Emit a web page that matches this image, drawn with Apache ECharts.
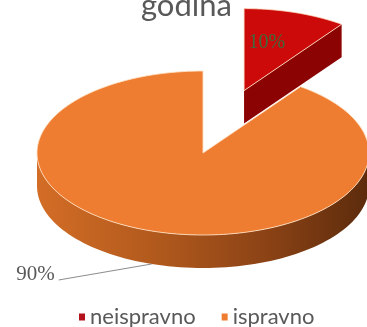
<!DOCTYPE html>
<html><head><meta charset="utf-8">
<script src="https://cdn.jsdelivr.net/npm/echarts@6/dist/echarts.min.js"></script>
<style>html,body{margin:0;padding:0;background:#fff}#c{width:367px;height:327px}</style>
</head><body><div id="c"></div>
<script>
// ---- data ----
const categories = ['neispravno', 'ispravno'];
const values = [10, 90];
const percentLabels = ['10%', '90%'];
const titleText = 'godina';

// ---- geometry / style (not data) ----
const geom = { cx: 203, cy: 153, rx: 166, ry: 82, depth: 33 };
const explode = [0.8, 0];
const labelMode = ['inside', 'outside'];
const legendColors = ['#b3121c', '#ee7d31'];
const topFill = ['#cc0a0a', '#ee7d31'];
const wallFill = ['#8c0303', '#a8521a'];
const sideStops = [
  [{offset:0,color:'#9a0505'},{offset:1,color:'#6e0000'}],
  [{offset:0,color:'#d36d26'},{offset:0.35,color:'#b25a1d'},{offset:0.7,color:'#8a4215'},{offset:1,color:'#5c2b0c'}]
];

const total = values.reduce((a, b) => a + b, 0);
const starts = [];
values.reduce((acc, v, i) => { starts[i] = acc; return acc + v; }, 0);

function pt(cx, cy, th, dz) {
  return [cx + geom.rx * Math.sin(th), cy - geom.ry * Math.cos(th) + (dz || 0)];
}

function renderSlice(params, api) {
  const idx = params.seriesIndex;
  const start = api.value(0), val = api.value(1);
  const a0 = start / total * 2 * Math.PI, a1 = (start + val) / total * 2 * Math.PI;
  const am = (a0 + a1) / 2;
  const e = explode[idx];
  const cx = geom.cx + e * geom.rx * Math.sin(am);
  const cy = geom.cy - e * geom.ry * Math.cos(am);
  const D = geom.depth;
  const children = [];
  const N = 90;
  // outer side (front half only)
  const lo = Math.max(a0, Math.PI / 2), hi = Math.min(a1, 3 * Math.PI / 2);
  if (hi > lo) {
    const pts = [];
    for (let i = 0; i <= N; i++) pts.push(pt(cx, cy, lo + (hi - lo) * i / N, 0));
    for (let i = N; i >= 0; i--) pts.push(pt(cx, cy, lo + (hi - lo) * i / N, D));
    children.push({ type: 'polygon', shape: { points: pts },
      style: { fill: { type: 'linear', x: 0, y: 0, x2: 1, y2: 0, colorStops: sideStops[idx] } } });
  }
  // radial walls
  if (Math.sin(a1) > 0.001) {
    const r = pt(cx, cy, a1, 0);
    children.push({ type: 'polygon', shape: { points: [[cx, cy], r, [r[0], r[1] + D], [cx, cy + D]] },
      style: { fill: wallFill[idx] } });
  }
  if (Math.sin(a0) < -0.001) {
    const r = pt(cx, cy, a0, 0);
    children.push({ type: 'polygon', shape: { points: [[cx, cy], r, [r[0], r[1] + D], [cx, cy + D]] },
      style: { fill: wallFill[idx] } });
  }
  // top face
  const tp = [[cx, cy]];
  for (let i = 0; i <= N * 2; i++) tp.push(pt(cx, cy, a0 + (a1 - a0) * i / (N * 2), 0));
  children.push({ type: 'polygon', shape: { points: tp },
    style: { fill: topFill[idx], stroke: 'rgba(255,225,195,0.85)', lineWidth: 1 } });
  // labels
  if (labelMode[idx] === 'inside') {
    const p = pt(cx, cy, am, 0);
    const f = 0.62;
    const x = cx + (p[0] - cx) * f - 9, y = cy + (p[1] - cy) * f;
    children.push({ type: 'text', style: { text: percentLabels[idx], x: x, y: y,
      align: 'center', verticalAlign: 'middle', fill: '#3d6b3d',
      font: '20px "Liberation Serif", "DejaVu Serif", serif' } });
  } else {
    const p = pt(cx, cy, am, D);
    const end = [p[0] - 93, p[1] + 16];
    children.push({ type: 'polyline', shape: { points: [p, end] },
      style: { stroke: '#8c8c8c', lineWidth: 1, fill: null } });
    children.push({ type: 'text', style: { text: percentLabels[idx], x: end[0] - 4, y: end[1] - 6,
      align: 'right', verticalAlign: 'middle', fill: '#595959',
      font: '21px "Liberation Serif", "DejaVu Serif", serif' } });
  }
  return { type: 'group', children: children };
}

const chart = echarts.init(document.getElementById('c'));
chart.setOption({
  backgroundColor: '#ffffff',
  animation: false,
  title: { text: titleText, left: 136, top: -15,
    textStyle: { fontFamily: 'Lato', fontSize: 31, fontWeight: 'normal', color: '#595959' } },
  legend: { data: categories, left: 74, top: 301, icon: 'rect', itemWidth: 6, itemHeight: 7,
    itemGap: 26, textStyle: { fontFamily: 'Lato', fontSize: 22, color: '#595959' } },
  series: categories.map((name, i) => ({
    type: 'custom', name: name, coordinateSystem: 'none', z: i + 1,
    itemStyle: { color: legendColors[i] },
    renderItem: renderSlice,
    data: [[starts[i], values[i]]]
  }))
});
</script></body></html>
